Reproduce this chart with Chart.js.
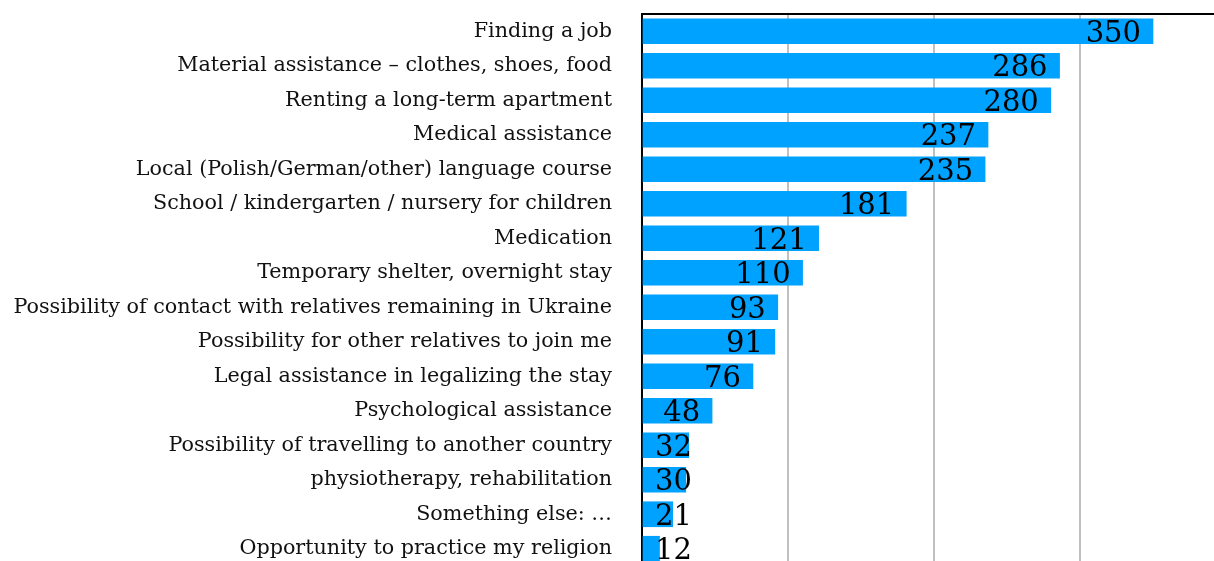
<!DOCTYPE html>
<html>
<head>
<meta charset="utf-8">
<script src="https://cdn.jsdelivr.net/npm/chart.js@4"></script>
<style>
  html, body { margin: 0; padding: 0; background: #fff; overflow: hidden; }
  #wrap { width: 1226px; height: 566px; }
</style>
</head>
<body>
<div id="wrap"><canvas id="bars" width="1226" height="566"></canvas></div>
<script>
var categories = [
    'Finding a job',
    'Material assistance \u2013 clothes, shoes, food',
    'Renting a long-term apartment',
    'Medical assistance',
    'Local (Polish/German/other) language course',
    'School / kindergarten / nursery for children',
    'Medication',
    'Temporary shelter, overnight stay',
    'Possibility of contact with relatives remaining in Ukraine',
    'Possibility for other relatives to join me',
    'Legal assistance in legalizing the stay',
    'Psychological assistance',
    'Possibility of travelling to another country',
    'physiotherapy, rehabilitation',
    'Something else: \u2026',
    'Opportunity to practice my religion'
];
var answers = [350, 286, 280, 237, 235, 181, 121, 110, 93, 91, 76, 48, 32, 30, 21, 12];
var gridValues = [0, 100, 200, 300, 400];

// value labels at the bar end, pushed right when the bar is too short
var valueLabels = {
    id: 'valueLabels',
    afterDatasetsDraw: function(chart) {
        var c = chart.ctx;
        var left = chart.chartArea.left;
        var meta = chart.getDatasetMeta(0);
        c.save();
        c.font = '29px "DejaVu Serif"';
        c.fillStyle = '#000';
        c.textBaseline = 'middle';
        c.textAlign = 'left';
        meta.data.forEach(function(bar, i) {
            var txt = String(answers[i]);
            var w = c.measureText(txt).width;
            var x = Math.max(bar.x - 12 - w, left + 13);
            c.fillText(txt, x, bar.y + 3);
        });
        c.restore();
    }
};

var ctx = document.getElementById('bars').getContext('2d');
var chart = new Chart(ctx, {
    type: 'bar',
    data: {
        labels: categories,
        datasets: [{
            data: answers,
            backgroundColor: '#00a2ff',
            borderWidth: 0,
            barThickness: 25
        }]
    },
    options: {
        indexAxis: 'y',
        responsive: false,
        animation: false,
        layout: { padding: 0 },
        plugins: {
            legend: { display: false },
            tooltip: { enabled: false }
        },
        scales: {
            x: {
                position: 'top',
                min: 0,
                max: 400,
                afterBuildTicks: function(s) {
                    s.ticks = gridValues.map(function(v) { return { value: v }; });
                },
                afterFit: function(s) {
                    s.height = 14;
                    s.paddingLeft = 0;
                    s.paddingRight = 0;
                },
                ticks: { display: false },
                grid: {
                    drawTicks: false,
                    lineWidth: 2,
                    color: function(c) { return c.tick && c.tick.value === 0 ? 'rgba(0,0,0,0)' : '#c0c0c0'; }
                },
                border: { color: '#000', width: 2 }
            },
            y: {
                afterFit: function(s) {
                    s.width = 642;
                    s.paddingTop = 0;
                    s.paddingBottom = 0;
                },
                ticks: {
                    padding: 30,
                    color: '#111',
                    font: { family: '"DejaVu Serif"', size: 20.7 }
                },
                grid: { display: false, drawTicks: false },
                border: { color: '#000', width: 2 }
            }
        }
    },
    plugins: [valueLabels]
});
</script>
</body>
</html>
